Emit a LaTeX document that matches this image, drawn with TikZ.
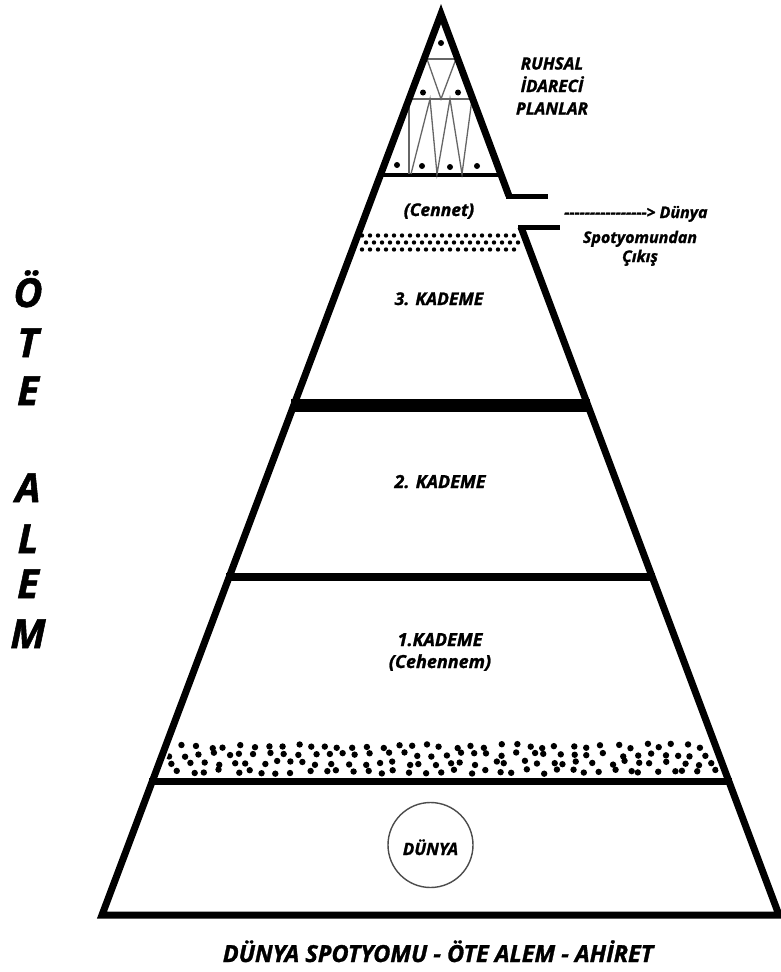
\documentclass[tikz,border=0pt]{standalone}
\usepackage{fontspec}
\setmainfont{Open Sans}[BoldItalicFeatures={FakeBold=1.3}]
\newcommand\hyp{-\kern0pt}
\begin{document}
\begin{tikzpicture}[x=1pt,y=-1pt,
  edge/.style={line width=7pt, line join=miter},
  divider/.style={line width=#1},
  inner/.style={line width=1.3pt, draw=black!60},
  lbl/.style={font=\bfseries\itshape\fontsize{#1}{#1}\selectfont, anchor=base, inner sep=0pt},
  dot/.style={fill=black}]
\useasboundingbox[fill=white] (0,0) rectangle (781,972);

% coordinates of the pyramid
\coordinate (apex) at (441,14);
\coordinate (bl) at (102,915);
\coordinate (br) at (779,915);
\coordinate (upstepin) at (509,196);
\coordinate (upstepout) at (548,196);
\coordinate (lostepin) at (521,227);
\coordinate (lostepout) at (560,227);

% dotted band (bottom)
\begin{scope}
\clip (441,24) -- (109,913) -- (772,913) -- cycle;
\pgfmathsetseed{7}
\foreach \r in {0,1,2,3}{
  \foreach \i in {0,...,39}{
    \pgfmathsetmacro\xx{166+\i*14.5+\r*4+rand*4.5}
    \pgfmathsetmacro\yy{746+\r*8.5+rand*2.2}
    \fill[dot] (\xx,\yy) circle[radius=3.2];
  }}
\end{scope}

% dotted band (upper, below Cennet)
\foreach \r in {0,1,2}{
  \foreach \i in {0,...,19}{
    \pgfmathsetmacro\xx{362+\i*8+mod(\r,2)*4}
    \pgfmathsetmacro\yy{235.5+\r*7}
    \fill[dot] (\xx,\yy) circle[radius=2.2];
  }}

% horizontal dividers
\draw[divider=4pt] (378,175) coordinate (d0l) -- (503,175) coordinate (d0r);
\draw[divider=13pt] (291,405) coordinate (d1l) -- (590,405) coordinate (d1r);
\draw[divider=8pt] (226,577) coordinate (d2l) -- (655,577) coordinate (d2r);
\draw[divider=7pt] (149,781) coordinate (d3l) -- (732,781) coordinate (d3r);

% top triangle inner structure
\draw[inner] (424,59) coordinate (h1l) -- (458,59) coordinate (h1r);
\draw[inner] (409,99) coordinate (h2l) -- (473,99) coordinate (h2r);
\draw[inner] (427,59) -- (441,99) -- (456,59);
\draw[inner] (409,99) -- (409,174);
\draw[inner] (411,174) -- (430,99) -- (437,174) -- (450,99) -- (462,174) -- (472,99);
\foreach \p in {(441,43),(423,92.5),(458,92.5),(397,165),(422,166),(450,167),(477,166)}
  \fill[dot] \p circle[radius=3];

% pyramid outline
\draw[edge] (upstepin) -- (apex) -- (bl) -- (br) -- (lostepin);
\draw[line width=5pt] (506,196) -- (upstepout);
\draw[line width=5pt] (518,227) -- (lostepout);

% DÜNYA circle
\draw[line width=1.4pt, draw=black!70] (430.5,845) circle[radius=42.5];

% labels inside
\node[lbl=17] (r1) at (552,69.5) {RUHSAL};
\node[lbl=17] (r2) at (552,92) {İDARECİ};
\node[lbl=17] (r3) at (552,114.5) {PLANLAR};
\node[lbl=17.5] (cennet) at (439,216) {(Cennet)};
\node[lbl=17.5] (k3) at (439,305) {3. KADEME};
\node[lbl=18] (k2) at (440,488) {2. KADEME};
\node[lbl=18] (k1) at (440,646) {1.KADEME};
\node[lbl=18] (cehennem) at (440,668) {(Cehennem)};
\node[lbl=17] (dunya) at (430.5,855) {DÜNYA};

% exit text
\node[lbl=16, anchor=base west] (exit) at (564,218) {\hyp\hyp\hyp\hyp\hyp\hyp\hyp\hyp\hyp\hyp\hyp\hyp\hyp\hyp\hyp\hyp> Dünya};
\node[lbl=16] (spot) at (640,243) {Spotyomundan};
\node[lbl=16] (cikis) at (640,262) {Çıkış};

% left vertical text
\foreach \ch/\yy [count=\k] in {Ö/307,T/357,E/405,A/502,L/553,E/598,M/648}
  \node[lbl=40] (side\k) at (28,\yy) {\ch};

% bottom caption
\node[lbl=23.5] (caption) at (438,962) {DÜNYA SPOTYOMU - ÖTE ALEM - AHİRET};
\end{tikzpicture}
\end{document}
